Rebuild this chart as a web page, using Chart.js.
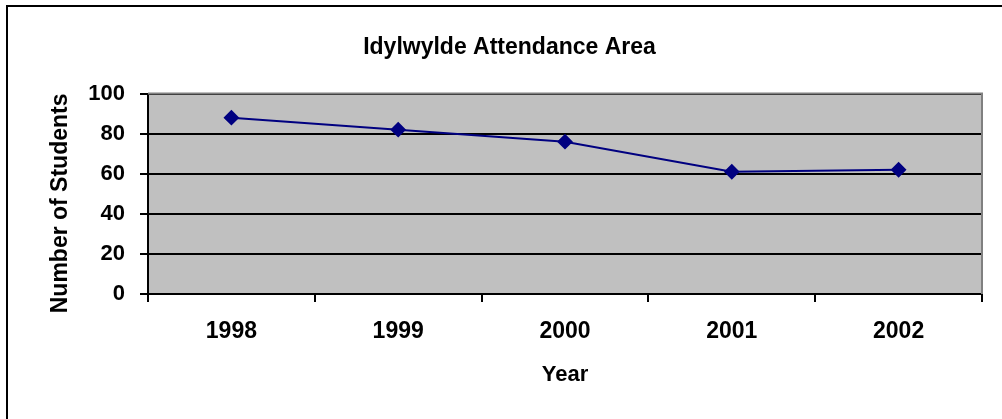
<!DOCTYPE html>
<html lang="en">
<head>
    <meta charset="UTF-8">
    <title>Idylwylde Attendance Area</title>
    <script src="https://cdn.jsdelivr.net/npm/chart.js"></script>
    <style>
        html, body { margin: 0; padding: 0; background: #fff; overflow: hidden; }
        .wrap { position: relative; width: 1002px; height: 419px; }
        .frame {
            position: absolute; left: 6px; top: 5px; width: 1100px; height: 500px;
            border: 2px solid #000; pointer-events: none;
        }
    </style>
</head>
<body>
    <div class="wrap">
        <canvas id="lineChart"></canvas>
        <div class="frame"></div>
    </div>

    <script>
        // data
        const years = ["1998", "1999", "2000", "2001", "2002"];
        const students = [88, 82, 76, 61, 62];
        const yMin = 0, yMax = 100, yStep = 20;

        const FONT = "'Liberation Sans', Arial, sans-serif";

        // grey plot area, grey top/right edge like the old spreadsheet look
        const plotArea = {
            id: 'plotArea',
            beforeDraw(chart) {
                const { ctx, chartArea: a } = chart;
                ctx.save();
                ctx.fillStyle = '#c0c0c0';
                ctx.fillRect(a.left, a.top, a.right - a.left, a.bottom - a.top);
                ctx.restore();
            },
            beforeDatasetsDraw(chart) {
                const { ctx, chartArea: a } = chart;
                ctx.save();
                ctx.strokeStyle = '#808080';
                ctx.lineWidth = 2;
                ctx.beginPath();
                ctx.moveTo(a.left, a.top);
                ctx.lineTo(a.right, a.top);
                ctx.lineTo(a.right, a.bottom);
                ctx.stroke();
                ctx.restore();
            }
        };

        const ctx = document.getElementById('lineChart').getContext('2d');
        new Chart(ctx, {
            type: 'line',
            data: {
                labels: years,
                datasets: [{
                    label: 'Number of Students',
                    data: students,
                    borderColor: '#000080',
                    backgroundColor: '#000080',
                    borderWidth: 2,
                    pointStyle: 'rectRot',
                    pointRadius: 6.5,
                    pointHoverRadius: 6.5,
                    tension: 0
                }]
            },
            options: {
                responsive: true,
                maintainAspectRatio: false,
                animation: false,
                layout: { padding: { left: 37, right: 20, top: 0, bottom: 0 } },
                plugins: {
                    legend: { display: false },
                    tooltip: { enabled: false },
                    title: {
                        display: true,
                        text: 'Idylwylde Attendance Area',
                        color: '#000',
                        font: { family: FONT, size: 23, weight: 'bold' },
                        padding: { top: 34, bottom: 32 }
                    }
                },
                scales: {
                    x: {
                        offset: true,
                        grid: {
                            offset: true,
                            drawOnChartArea: false,
                            drawTicks: true,
                            tickLength: 8,
                            color: '#000',
                            lineWidth: 2
                        },
                        border: { display: true, color: '#000', width: 2 },
                        ticks: {
                            color: '#000',
                            padding: 16,
                            font: { family: FONT, size: 23, weight: 'bold' }
                        },
                        title: {
                            display: true,
                            text: 'Year',
                            color: '#000',
                            font: { family: FONT, size: 22, weight: 'bold' },
                            padding: { top: 0, bottom: 31 }
                        },
                        afterFit(scale) { scale.height = 125; }
                    },
                    y: {
                        min: yMin,
                        max: yMax,
                        grid: {
                            color: '#000',
                            tickColor: '#000',
                            lineWidth: 2,
                            tickLength: 8
                        },
                        border: { display: true, color: '#000', width: 2 },
                        ticks: {
                            stepSize: yStep,
                            color: '#000',
                            padding: 15,
                            font: { family: FONT, size: 22, weight: 'bold' }
                        },
                        title: {
                            display: true,
                            // trailing spaces nudge the centred title toward the bottom, as in the original
                            text: 'Number of Students   ',
                            color: '#000',
                            font: { family: FONT, size: 23, weight: 'bold' },
                            padding: { top: 10, bottom: 0 }
                        },
                        afterFit(scale) { scale.width = 111; }
                    }
                }
            },
            plugins: [plotArea]
        });
    </script>
</body>
</html>
